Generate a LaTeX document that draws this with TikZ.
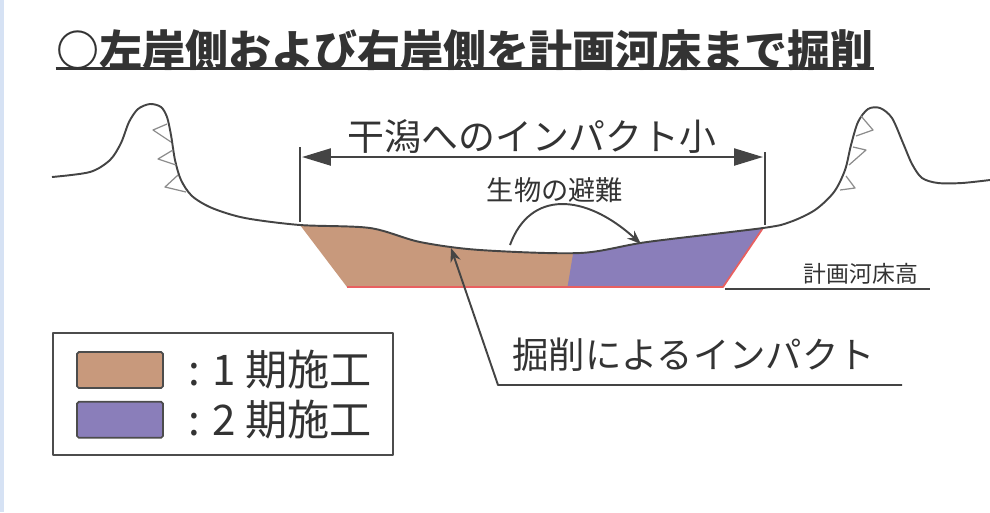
\documentclass[tikz,border=0pt]{standalone}
\usepackage{fontspec}
\setmainfont{Noto Sans CJK JP}
\usetikzlibrary{positioning, arrows.meta}

\definecolor{inkgray}{RGB}{68,68,68}
\definecolor{phaseone}{RGB}{200,153,124}
\definecolor{phasetwo}{RGB}{138,126,186}
\definecolor{bedred}{RGB}{232,96,96}
\definecolor{paleblue}{RGB}{214,226,244}

\begin{document}
\begin{tikzpicture}[x=0.02cm, y=-0.02cm, >=Stealth, line join=round]
    % Styles
    \tikzstyle{ground}=[draw=inkgray, line width=1.1pt]
    \tikzstyle{thinline}=[draw=inkgray, line width=0.8pt]
    \tikzstyle{teeth}=[draw=black!45, line width=0.7pt]
    \tikzstyle{label}=[inner sep=0pt, text=black!80]
    \tikzstyle{arrow}=[->, draw=inkgray, line width=1.1pt]
    \tikzstyle{swatch}=[draw=black!70, line width=1pt, rounded corners=1pt, minimum width=1.72cm, minimum height=0.72cm, inner sep=0pt]

    \useasboundingbox (0,0) rectangle (990,512);
    \fill[paleblue] (0,0) rectangle (4,512);

    % Title
    \node[label, font=\bfseries\fontsize{24.5}{24.5}\selectfont] (title) at (465,50) {○左岸側および右岸側を計画河床まで掘削};
    \draw[black!80, line width=1.7pt] ([yshift=0.04cm]title.south west) -- ([yshift=0.04cm]title.south east);

    % Excavation (1st and 2nd stage)
    \fill[phaseone] plot[smooth] coordinates {(300,225) (370,228) (420,242) (480,250) (580,253) (647,242) (763,228)}
        -- (723,287) -- (347,287) -- cycle;
    \begin{scope}
        \clip (582,200) -- (567,290) -- (800,290) -- (800,200) -- cycle;
        \fill[phasetwo] plot[smooth] coordinates {(300,225) (370,228) (420,242) (480,250) (580,253) (647,242) (763,228)}
            -- (723,287) -- (347,287) -- cycle;
    \end{scope}
    \draw[bedred, line width=1pt] (347,287) -- (723,287) -- (763,228);

    % Ground line with both banks
    \draw[ground] plot[smooth] coordinates {(52,177) (90,172) (110,160) (121,143) (129,122) (138,109) (150,104) (161,107) (167,117) (171,135) (175,160) (181,180) (192,196) (212,208) (245,218) (300,225)
        (370,228) (420,242) (480,250) (580,253) (647,242) (763,228)
        (790,222) (815,210) (834,192) (845,170) (851,145) (858,122) (868,109) (880,108) (892,118) (903,143) (912,164) (922,178) (938,183) (962,183) (990,180)};

    % Revetment
    \draw[teeth] (167,124) -- (153,130) -- (171,142);
    \draw[teeth] (173,150) -- (158,159) -- (176,165);
    \draw[teeth] (178,175) -- (165,187) -- (186,192);
    \draw[teeth] (861,116) -- (873,130) -- (856,136);
    \draw[teeth] (853,147) -- (866,150) -- (849,165);
    \draw[teeth] (846,176) -- (855,188) -- (840,190);

    % Tidal flat width
    \coordinate (ltop) at (300,147);
    \coordinate (lbot) at (300,222);
    \coordinate (rtop) at (765,152);
    \coordinate (rbot) at (765,225);
    \draw[thinline] (ltop) -- (lbot);
    \draw[thinline] (rtop) -- (rbot);
    \coordinate (dimL) at (302,157);
    \coordinate (dimR) at (763,157);
    \draw[inkgray, line width=1.3pt, {Triangle[length=0.58cm,width=0.34cm]}-{Triangle[length=0.58cm,width=0.34cm]}] (dimL) -- (dimR);
    \node[label, font=\fontsize{21}{21}\selectfont] (flat) at (532,136) {干潟へのインパクト小};

    % Refuge
    \node[label, font=\fontsize{15.5}{15.5}\selectfont] (refuge) at (555,190) {生物の避難};
    \coordinate (refA) at (510,245);
    \coordinate (refB) at (641,244);
    \draw[arrow] (refA) .. controls (530,190) and (585,193) .. (refB);

    % Impact of excavation
    \node[label, anchor=west, font=\fontsize{20.7}{20.7}\selectfont] (impact) at (512,355) {掘削によるインパクト};
    \coordinate (impactEnd) at (902,385);
    \coordinate (impactBend) at (498,385);
    \coordinate (impactTip) at (451,248);
    \draw[arrow] (impactEnd) -- (impactBend) -- (impactTip);

    % Planned bed level
    \coordinate (bedA) at (725,289);
    \coordinate (bedB) at (930,289);
    \draw[thinline] (bedA) -- (bedB);
    \node[label, font=\fontsize{13}{13}\selectfont] (bedlevel) at (861,274) {計画河床高};

    % Legend
    \node[draw=black!70, line width=1.2pt, minimum width=6.8cm, minimum height=2.44cm, inner sep=0pt] (legend) at (223,394) {};
    \node[swatch, fill=phaseone] (s1) at (120,370) {};
    \node[swatch, fill=phasetwo, below=0.24cm of s1] (s2) {};
    \node[label, font=\fontsize{24}{24}\selectfont, right=0.48cm of s1] (p1) {: 1 期施工};
    \node[label, font=\fontsize{24}{24}\selectfont, right=0.48cm of s2] (p2) {: 2 期施工};

\end{tikzpicture}
\end{document}
